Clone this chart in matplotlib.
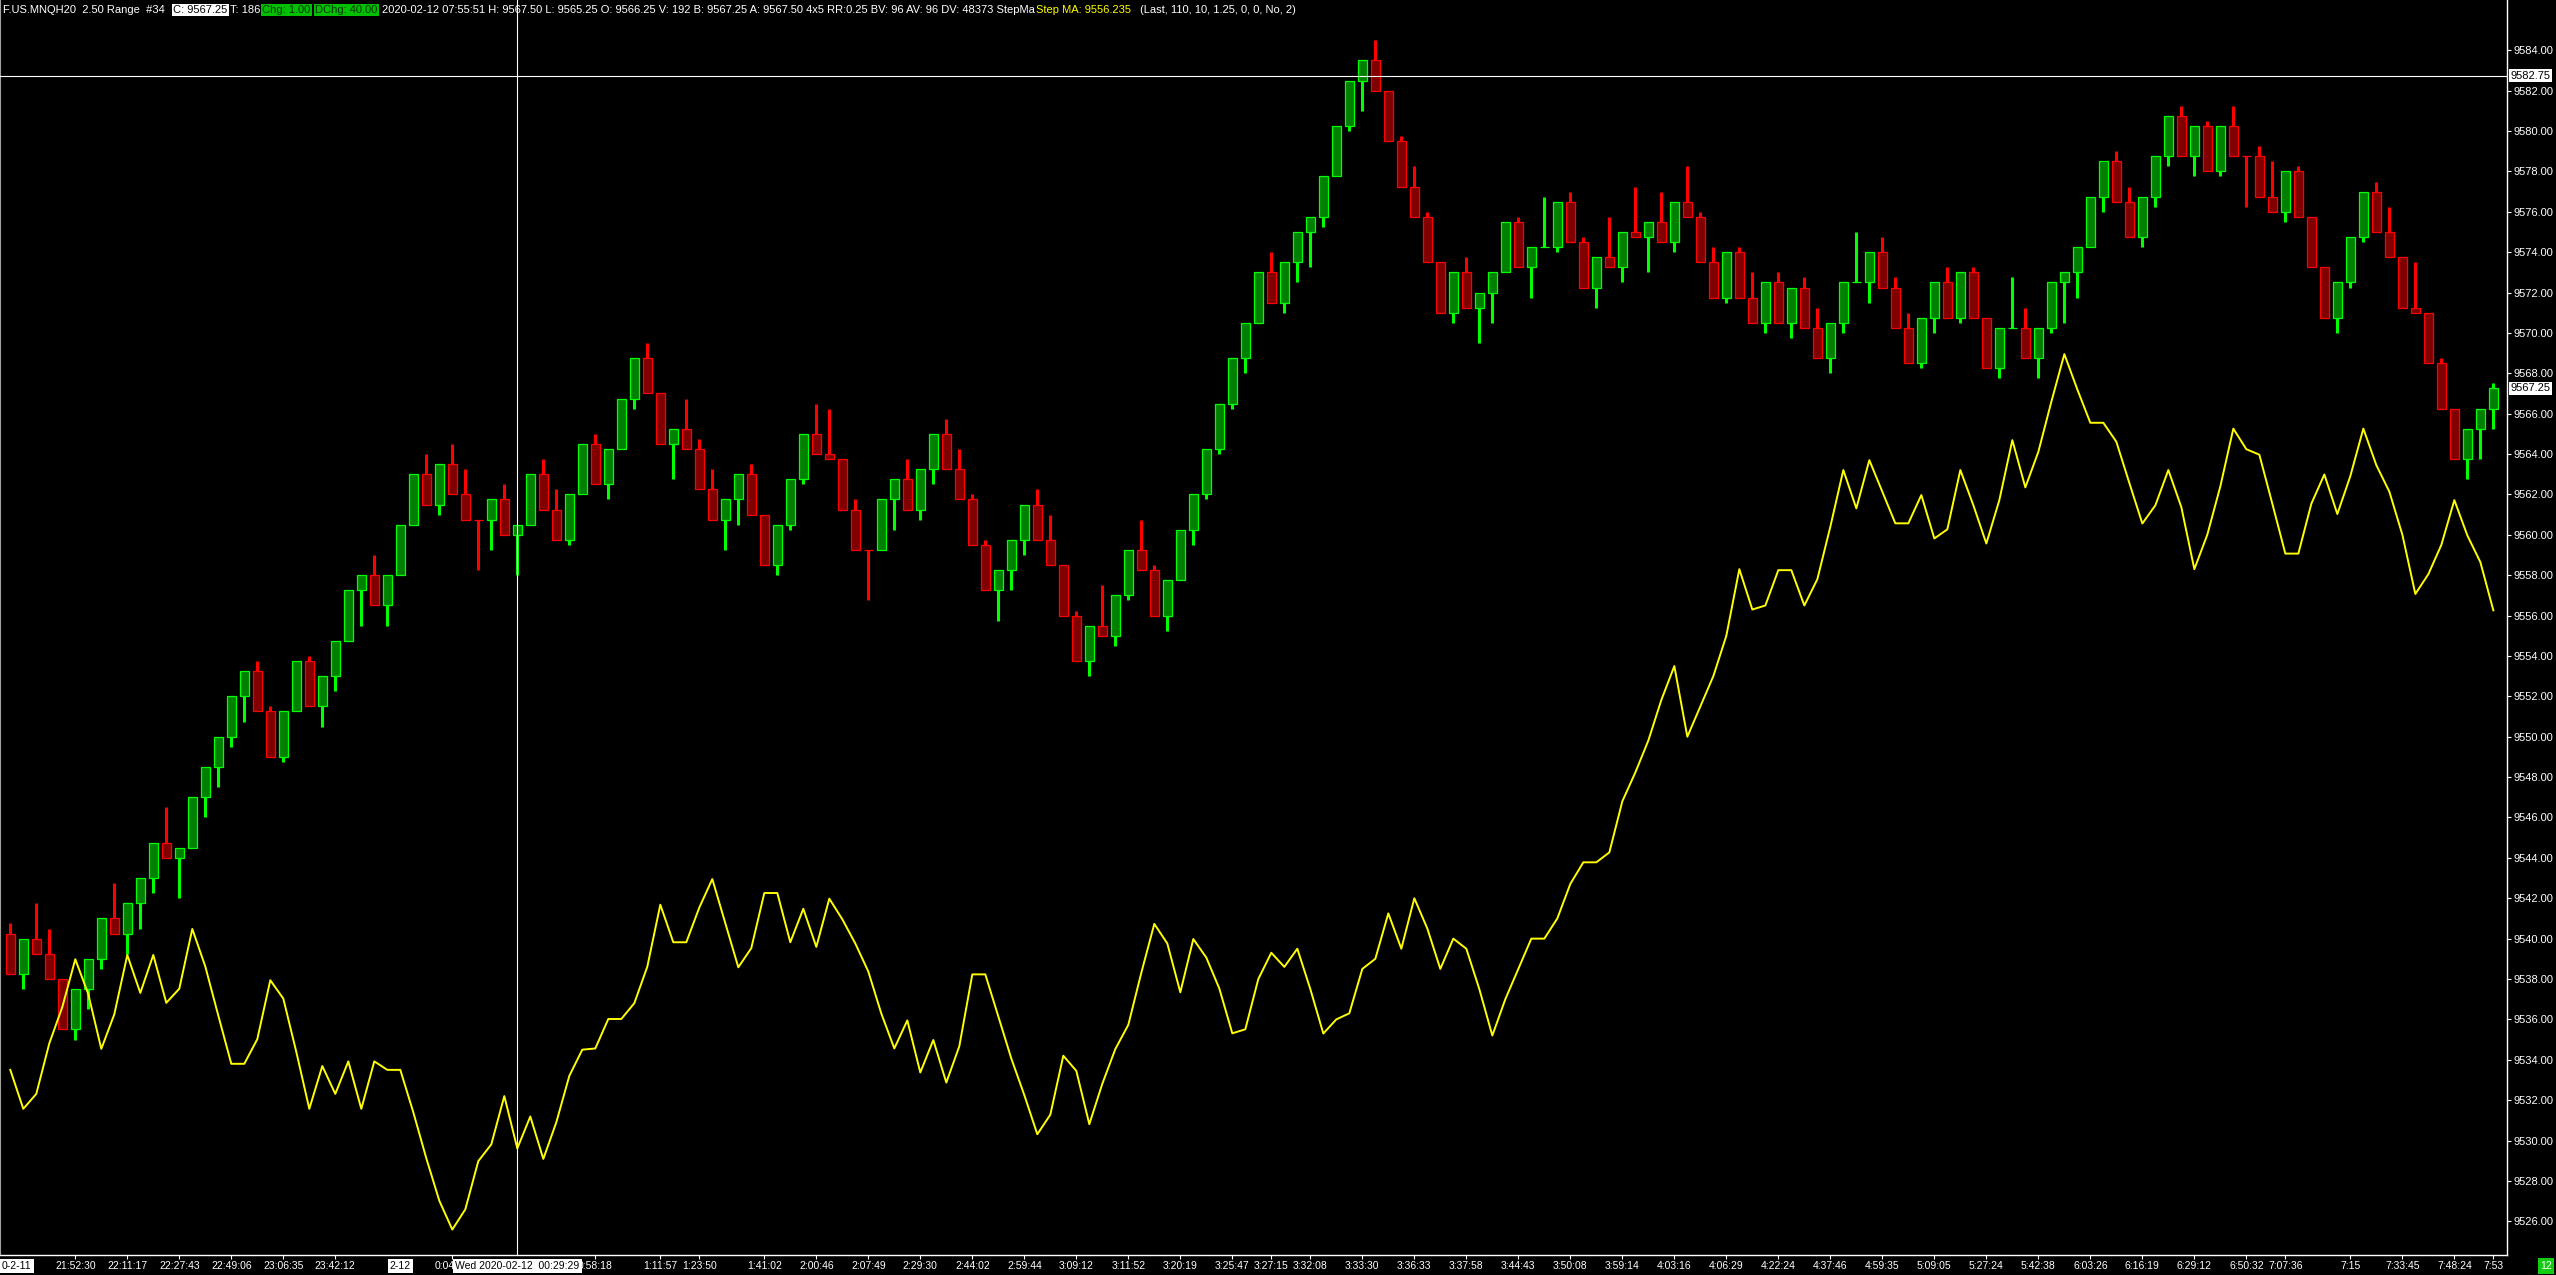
import matplotlib
matplotlib.use("Agg")
import matplotlib.pyplot as plt
import numpy as np

plt.rcParams['font.family'] = ['Liberation Sans', 'DejaVu Sans']

# ---------------- data (range bars, 2.50 range) ----------------
opens = [9540.25, 9538.25, 9540.0, 9539.25, 9538.0, 9535.5, 9537.5, 9539.0, 9541.0, 9540.25,
         9541.75, 9543.0, 9544.75, 9544.0, 9544.5, 9547.0, 9548.5, 9550.0, 9552.0, 9553.25,
         9551.25, 9549.0, 9551.25, 9553.75, 9551.5, 9553.0, 9554.75, 9557.25, 9558.0, 9556.5,
         9558.0, 9560.5, 9563.0, 9561.5, 9563.5, 9562.0, 9560.75, 9560.75, 9561.75, 9560.0,
         9560.5, 9563.0, 9561.25, 9559.75, 9562.0, 9564.5, 9562.5, 9564.25, 9566.75, 9568.75,
         9567.0, 9564.5, 9565.25, 9564.25, 9562.25, 9560.75, 9561.75, 9563.0, 9561.0, 9558.5,
         9560.5, 9562.75, 9565.0, 9564.0, 9563.75, 9561.25, 9559.25, 9559.25, 9561.75, 9562.75,
         9561.25, 9563.25, 9565.0, 9563.25, 9561.75, 9559.5, 9557.25, 9558.25, 9559.75, 9561.5,
         9559.75, 9558.5, 9556.0, 9553.75, 9555.5, 9555.0, 9557.0, 9559.25, 9558.25, 9556.0,
         9557.75, 9560.25, 9562.0, 9564.25, 9566.5, 9568.75, 9570.5, 9573.0, 9571.5, 9573.5,
         9575.0, 9575.75, 9577.75, 9580.25, 9582.5, 9583.5, 9582.0, 9579.5, 9577.25, 9575.75,
         9573.5, 9571.0, 9573.0, 9571.25, 9572.0, 9573.0, 9575.5, 9573.25, 9574.25, 9574.25,
         9576.5, 9574.5, 9572.25, 9573.75, 9573.25, 9575.0, 9574.75, 9575.5, 9574.5, 9576.5,
         9575.75, 9573.5, 9571.75, 9574.0, 9571.75, 9570.5, 9572.5, 9570.5, 9572.25, 9570.25,
         9568.75, 9570.5, 9572.5, 9572.5, 9574.0, 9572.25, 9570.25, 9568.5, 9570.75, 9572.5,
         9570.75, 9573.0, 9570.75, 9568.25, 9570.25, 9570.25, 9568.75, 9570.25, 9572.5, 9573.0,
         9574.25, 9576.75, 9578.5, 9576.5, 9574.75, 9576.75, 9578.75, 9580.75, 9578.75, 9580.25,
         9578.0, 9580.25, 9578.75, 9578.75, 9576.75, 9576.0, 9578.0, 9575.75, 9573.25, 9570.75,
         9572.5, 9574.75, 9577.0, 9575.0, 9573.75, 9571.25, 9571.0, 9568.5, 9566.25, 9563.75,
         9565.25, 9566.25]
highs = [9540.75, 9540.0, 9541.75, 9540.5, 9538.0, 9537.5, 9539.0, 9541.0, 9542.75, 9541.75,
         9543.0, 9544.75, 9546.5, 9544.5, 9547.0, 9548.5, 9550.0, 9552.0, 9553.25, 9553.75,
         9551.5, 9551.25, 9553.75, 9554.0, 9553.0, 9554.75, 9557.25, 9558.0, 9559.0, 9558.0,
         9560.5, 9563.0, 9564.0, 9563.5, 9564.5, 9563.25, 9560.75, 9561.75, 9562.5, 9560.5,
         9563.0, 9563.75, 9562.25, 9562.0, 9564.5, 9565.0, 9564.25, 9566.75, 9568.75, 9569.5,
         9567.0, 9565.25, 9566.75, 9564.75, 9563.25, 9561.75, 9563.0, 9563.5, 9561.0, 9560.5,
         9562.75, 9565.0, 9566.5, 9566.25, 9563.75, 9561.75, 9559.25, 9561.75, 9562.75, 9563.75,
         9563.25, 9565.0, 9565.75, 9564.25, 9562.0, 9559.75, 9558.25, 9559.75, 9561.5, 9562.25,
         9561.0, 9558.5, 9556.25, 9555.5, 9557.5, 9557.0, 9559.25, 9560.75, 9558.5, 9557.75,
         9560.25, 9562.0, 9564.25, 9566.5, 9568.75, 9570.5, 9573.0, 9574.0, 9573.5, 9575.0,
         9575.75, 9577.75, 9580.25, 9582.5, 9583.5, 9584.5, 9582.0, 9579.75, 9578.25, 9576.0,
         9573.5, 9573.0, 9573.75, 9572.0, 9573.0, 9575.5, 9575.75, 9574.25, 9576.75, 9576.5,
         9577.0, 9574.75, 9573.75, 9575.75, 9575.0, 9577.25, 9575.5, 9577.0, 9576.5, 9578.25,
         9576.0, 9574.25, 9574.0, 9574.25, 9573.0, 9572.5, 9573.0, 9572.25, 9572.75, 9571.25,
         9570.5, 9572.5, 9575.0, 9574.0, 9574.75, 9572.75, 9571.0, 9570.75, 9572.5, 9573.25,
         9573.0, 9573.25, 9570.75, 9570.25, 9572.75, 9571.25, 9570.25, 9572.5, 9573.0, 9574.25,
         9576.75, 9578.5, 9579.0, 9577.25, 9576.75, 9578.75, 9580.75, 9581.25, 9580.25, 9580.5,
         9580.25, 9581.25, 9578.75, 9579.25, 9578.5, 9578.0, 9578.25, 9575.75, 9573.25, 9572.5,
         9574.75, 9577.0, 9577.5, 9576.25, 9573.75, 9573.5, 9571.0, 9568.75, 9566.25, 9565.25,
         9566.25, 9567.5]
lows = [9538.25, 9537.5, 9539.25, 9538.0, 9535.5, 9535.0, 9536.5, 9538.5, 9540.25, 9539.25,
        9540.5, 9542.25, 9544.0, 9542.0, 9544.5, 9546.0, 9547.5, 9549.5, 9550.75, 9551.25,
        9549.0, 9548.75, 9551.25, 9551.5, 9550.5, 9552.25, 9554.75, 9555.5, 9556.5, 9555.5,
        9558.0, 9560.5, 9561.5, 9561.0, 9562.0, 9560.75, 9558.25, 9559.25, 9560.0, 9558.0,
        9560.5, 9561.25, 9559.75, 9559.5, 9562.0, 9562.5, 9561.75, 9564.25, 9566.25, 9567.0,
        9564.5, 9562.75, 9564.25, 9562.25, 9560.75, 9559.25, 9560.5, 9561.0, 9558.5, 9558.0,
        9560.25, 9562.5, 9564.0, 9563.75, 9561.25, 9559.25, 9556.75, 9559.25, 9560.25, 9561.25,
        9560.75, 9562.5, 9563.25, 9561.75, 9559.5, 9557.25, 9555.75, 9557.25, 9559.0, 9559.75,
        9558.5, 9556.0, 9553.75, 9553.0, 9555.0, 9554.5, 9556.75, 9558.25, 9556.0, 9555.25,
        9557.75, 9559.5, 9561.75, 9564.0, 9566.25, 9568.0, 9570.5, 9571.5, 9571.0, 9572.5,
        9573.25, 9575.25, 9577.75, 9580.0, 9581.0, 9582.0, 9579.5, 9577.25, 9575.75, 9573.5,
        9571.0, 9570.5, 9571.25, 9569.5, 9570.5, 9573.0, 9573.25, 9571.75, 9574.25, 9574.0,
        9574.5, 9572.25, 9571.25, 9573.25, 9572.5, 9574.75, 9573.0, 9574.5, 9574.0, 9575.75,
        9573.5, 9571.75, 9571.5, 9571.75, 9570.5, 9570.0, 9570.5, 9569.75, 9570.25, 9568.75,
        9568.0, 9570.0, 9572.5, 9571.5, 9572.25, 9570.25, 9568.5, 9568.25, 9570.0, 9570.75,
        9570.5, 9570.75, 9568.25, 9567.75, 9570.25, 9568.75, 9567.75, 9570.0, 9570.5, 9571.75,
        9574.25, 9576.0, 9576.5, 9574.75, 9574.25, 9576.25, 9578.25, 9578.75, 9577.75, 9578.0,
        9577.75, 9578.75, 9576.25, 9576.75, 9576.0, 9575.5, 9575.75, 9573.25, 9570.75, 9570.0,
        9572.25, 9574.5, 9575.0, 9573.75, 9571.25, 9571.0, 9568.5, 9566.25, 9563.75, 9562.75,
        9563.75, 9565.25]
closes = [9538.25, 9540.0, 9539.25, 9538.0, 9535.5, 9537.5, 9539.0, 9541.0, 9540.25, 9541.75,
          9543.0, 9544.75, 9544.0, 9544.5, 9547.0, 9548.5, 9550.0, 9552.0, 9553.25, 9551.25,
          9549.0, 9551.25, 9553.75, 9551.5, 9553.0, 9554.75, 9557.25, 9558.0, 9556.5, 9558.0,
          9560.5, 9563.0, 9561.5, 9563.5, 9562.0, 9560.75, 9560.75, 9561.75, 9560.0, 9560.5,
          9563.0, 9561.25, 9559.75, 9562.0, 9564.5, 9562.5, 9564.25, 9566.75, 9568.75, 9567.0,
          9564.5, 9565.25, 9564.25, 9562.25, 9560.75, 9561.75, 9563.0, 9561.0, 9558.5, 9560.5,
          9562.75, 9565.0, 9564.0, 9563.75, 9561.25, 9559.25, 9559.25, 9561.75, 9562.75, 9561.25,
          9563.25, 9565.0, 9563.25, 9561.75, 9559.5, 9557.25, 9558.25, 9559.75, 9561.5, 9559.75,
          9558.5, 9556.0, 9553.75, 9555.5, 9555.0, 9557.0, 9559.25, 9558.25, 9556.0, 9557.75,
          9560.25, 9562.0, 9564.25, 9566.5, 9568.75, 9570.5, 9573.0, 9571.5, 9573.5, 9575.0,
          9575.75, 9577.75, 9580.25, 9582.5, 9583.5, 9582.0, 9579.5, 9577.25, 9575.75, 9573.5,
          9571.0, 9573.0, 9571.25, 9572.0, 9573.0, 9575.5, 9573.25, 9574.25, 9574.25, 9576.5,
          9574.5, 9572.25, 9573.75, 9573.25, 9575.0, 9574.75, 9575.5, 9574.5, 9576.5, 9575.75,
          9573.5, 9571.75, 9574.0, 9571.75, 9570.5, 9572.5, 9570.5, 9572.25, 9570.25, 9568.75,
          9570.5, 9572.5, 9572.5, 9574.0, 9572.25, 9570.25, 9568.5, 9570.75, 9572.5, 9570.75,
          9573.0, 9570.75, 9568.25, 9570.25, 9570.25, 9568.75, 9570.25, 9572.5, 9573.0, 9574.25,
          9576.75, 9578.5, 9576.5, 9574.75, 9576.75, 9578.75, 9580.75, 9578.75, 9580.25, 9578.0,
          9580.25, 9578.75, 9578.75, 9576.75, 9576.0, 9578.0, 9575.75, 9573.25, 9570.75, 9572.5,
          9574.75, 9577.0, 9575.0, 9573.75, 9571.25, 9571.0, 9568.5, 9566.25, 9563.75, 9565.25,
          9566.25, 9567.25]
step_ma = [9533.50, 9531.57, 9532.31, 9534.81, 9536.61, 9538.98, 9537.25, 9534.54, 9536.25, 9539.19,
           9537.31, 9539.19, 9536.82, 9537.52, 9540.48, 9538.62, 9536.19, 9533.80, 9533.80, 9535.02,
           9537.94, 9537.03, 9534.39, 9531.57, 9533.69, 9532.31, 9533.92, 9531.57, 9533.92, 9533.50,
           9533.50, 9531.40, 9529.12, 9527.02, 9525.59, 9526.59, 9528.98, 9529.81, 9532.20, 9529.61,
           9531.19, 9529.09, 9530.90, 9533.20, 9534.50, 9534.56, 9536.02, 9536.02, 9536.80, 9538.61,
           9541.68, 9539.82, 9539.82, 9541.54, 9542.95, 9540.76, 9538.58, 9539.53, 9542.26, 9542.26,
           9539.82, 9541.48, 9539.59, 9541.98, 9540.96, 9539.76, 9538.37, 9536.29, 9534.56, 9535.95,
           9533.37, 9534.98, 9532.87, 9534.67, 9538.23, 9538.23, 9536.15, 9534.06, 9532.25, 9530.31,
           9531.28, 9534.20, 9533.45, 9530.81, 9532.81, 9534.53, 9535.73, 9538.31, 9540.73, 9539.76,
           9537.34, 9539.98, 9539.06, 9537.53, 9535.31, 9535.51, 9538.00, 9539.30, 9538.60, 9539.50,
           9537.50, 9535.30, 9536.00, 9536.30, 9538.50, 9539.00, 9541.25, 9539.50, 9542.00, 9540.50,
           9538.50, 9540.00, 9539.50, 9537.50, 9535.20, 9537.00, 9538.50, 9540.00, 9540.00, 9541.00,
           9542.71, 9543.78, 9543.78, 9544.27, 9546.80, 9548.23, 9549.81, 9551.82, 9553.50, 9550.00,
           9551.50, 9553.00, 9555.00, 9558.30, 9556.30, 9556.50, 9558.25, 9558.25, 9556.50, 9557.80,
           9560.40, 9563.21, 9561.31, 9563.70, 9562.13, 9560.57, 9560.57, 9561.97, 9559.82, 9560.27,
           9563.21, 9561.47, 9559.57, 9561.72, 9564.69, 9562.35, 9564.11, 9566.59, 9568.95, 9567.20,
           9565.55, 9565.55, 9564.61, 9562.57, 9560.56, 9561.46, 9563.21, 9561.37, 9558.30, 9560.01,
           9562.40, 9565.26, 9564.24, 9563.97, 9561.54, 9559.07, 9559.07, 9561.54, 9562.99, 9561.03,
           9562.91, 9565.26, 9563.45, 9562.14, 9560.01, 9557.07, 9558.05, 9559.50, 9561.72, 9559.97,
           9558.65, 9556.26]

time_label_bars = [5, 9, 13, 17, 21, 25, 34, 45, 50, 53, 58, 62, 66, 70, 74, 78, 82, 86, 90, 94,
                   97, 100, 104, 108, 112, 116, 120, 124, 128, 132, 136, 140, 144, 148, 152, 156,
                   160, 164, 168, 172, 175, 180, 184, 188, 191]
time_labels = ['21:52:30', '22:11:17', '22:27:43', '22:49:06', '23:06:35', '23:42:12', '0:04:53',
               '0:58:18', '1:11:57', '1:23:50', '1:41:02', '2:00:46', '2:07:49', '2:29:30', '2:44:02',
               '2:59:44', '3:09:12', '3:11:52', '3:20:19', '3:25:47', '3:27:15', '3:32:08', '3:33:30',
               '3:36:33', '3:37:58', '3:44:43', '3:50:08', '3:59:14', '4:03:16', '4:06:29', '4:22:24',
               '4:37:46', '4:59:35', '5:09:05', '5:27:24', '5:42:38', '6:03:26', '6:16:19', '6:29:12',
               '6:50:32', '7:07:36', '7:15', '7:33:45', '7:48:24', '7:53']
price_ticks = list(np.arange(9526, 9585, 2))
crosshair_bar = 39
crosshair_price = 9582.75
last_price = 9567.25

# ---------------- figure ----------------
W, H = 2556, 1275
fig = plt.figure(figsize=(W / 100, H / 100), dpi=100, facecolor='black')
ax = fig.add_axes([0.0, 20 / H, 2507 / W, 1255 / H])
ax.set_facecolor('black')

x = np.arange(len(opens))
o = np.array(opens); h = np.array(highs); l = np.array(lows); c = np.array(closes)
up = (c > o) | ((c == o) & (c == l) & (h > c))
edge = np.where(up, '#00FF00', '#FF0000')
fill = np.where(up, '#008000', '#800000')

ax.vlines(x, l, h, colors=edge, linewidth=2.2, zorder=2)
ax.bar(x, np.abs(c - o), bottom=np.minimum(o, c), width=0.68, color=fill,
       edgecolor=edge, linewidth=0.9, zorder=3)
ax.plot(x, step_ma, color='#FFFF00', linewidth=1.4, zorder=4)

ax.set_xlim(-0.792, 192.05)
ax.set_ylim(9524.33, 9586.49)

# crosshair
ax.axvline(crosshair_bar, color='white', linewidth=0.8, zorder=5)
ax.axhline(crosshair_price, color='white', linewidth=0.8, zorder=5)

ax.spines['top'].set_visible(False)
ax.spines['left'].set_color('#A0A0A0')
ax.spines['left'].set_linewidth(0.8)
ax.spines['right'].set_color('white')
ax.spines['right'].set_linewidth(1.0)
ax.spines['bottom'].set_color('white')
ax.spines['bottom'].set_linewidth(1.0)

ax.yaxis.tick_right()
ax.set_yticks(price_ticks)
ax.set_yticklabels([f'{v:.2f}' for v in price_ticks])
ax.tick_params(axis='y', colors='white', labelcolor='white', length=3, width=0.8,
               pad=1.5, labelsize=8)
ax.set_xticks(time_label_bars)
ax.set_xticklabels(time_labels)
ax.tick_params(axis='x', colors='white', labelcolor='white', length=3, width=0.8,
               pad=1.0, labelsize=7.5)

ytr = ax.get_yaxis_transform()
box_w = dict(boxstyle='square,pad=0.12', facecolor='white', edgecolor='none')
ax.text(1.0015, crosshair_price, f'{crosshair_price:.2f}', transform=ytr, ha='left', va='center',
        fontsize=8, color='black', bbox=box_w, clip_on=False, zorder=10)
ax.text(1.0015, last_price, f'{last_price:.2f}', transform=ytr, ha='left', va='center',
        fontsize=8, color='black', bbox=box_w, clip_on=False, zorder=10)

xtr = ax.get_xaxis_transform()
ax.text(crosshair_bar, -0.0088, 'Wed 2020-02-12  00:29:29', transform=xtr, ha='center', va='center',
        fontsize=7.5, color='black', bbox=dict(boxstyle='square,pad=0.2', facecolor='white',
                                                 edgecolor='none'), clip_on=False, zorder=10)
ax.text(30, -0.0088, '2-12', transform=xtr, ha='center', va='center', fontsize=7.5, color='black',
        bbox=dict(boxstyle='square,pad=0.2', facecolor='white', edgecolor='none'),
        clip_on=False, zorder=10)
fig.text(2 / W, 1 - 1266 / H, '0-2-11', ha='left', va='center', fontsize=7.5, color='black',
         bbox=dict(boxstyle='square,pad=0.2', facecolor='white', edgecolor='none'), zorder=10)
fig.text(2546 / W, 1 - 1266 / H, '12', ha='center', va='center', fontsize=7.5, color='white',
         bbox=dict(boxstyle='square,pad=0.25', facecolor='#11CC11', edgecolor='none'), zorder=10)

# header
hy = 1 - 10 / H
def htxt(px, s, color='white', bg=None, tc=None):
    kw = dict(ha='left', va='center', fontsize=8, color=color if tc is None else tc)
    if bg is not None:
        kw['bbox'] = dict(boxstyle='square,pad=0.12', facecolor=bg, edgecolor='none')
    fig.text(px / W, hy, s, **kw)

htxt(3, 'F.US.MNQH20  2.50 Range  #34')
htxt(173, 'C: 9567.25', bg='white', tc='black')
htxt(230, 'T: 186')
htxt(262, 'Chg: 1.00', bg='#00C000', tc='#003300')
htxt(315, 'DChg: 40.00', bg='#00C000', tc='#003300')
htxt(382, '2020-02-12 07:55:51 H: 9567.50 L: 9565.25 O: 9566.25 V: 192 B: 9567.25 A: 9567.50 '
          '4x5 RR:0.25 BV: 96 AV: 96 DV: 48373 StepMa')
htxt(1036, 'Step MA: 9556.235', color='#FFFF00')
htxt(1140, '(Last, 110, 10, 1.25, 0, 0, No, 2)')

fig.savefig('out.png', dpi=100, facecolor='black')
